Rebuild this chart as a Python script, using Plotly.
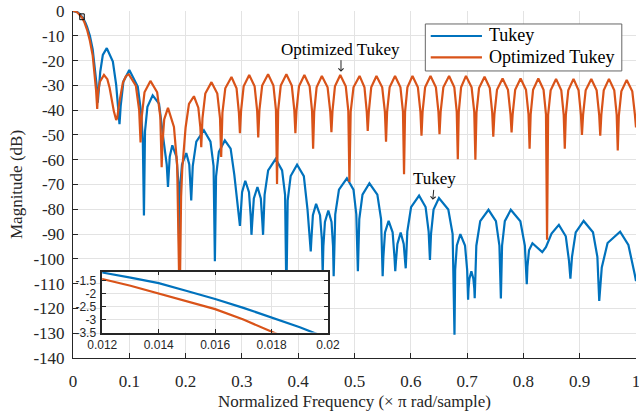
import plotly.graph_objects as go

# ---------------- data ----------------
tukey_freq = [
    0, 0.004, 0.008, 0.012, 0.013, 0.014, 0.015, 0.016, 0.017, 0.018, 0.019, 0.02, 0.022, 0.025, 0.03, 0.035, 0.039, 0.042, 0.044,
    0.0459, 0.0484, 0.053, 0.060, 0.0708, 0.0767, 0.0826,
    0.0847, 0.0896, 0.100, 0.115, 0.121, 0.124, 0.126,
    0.1279, 0.1322, 0.1415, 0.1528, 0.1616, 0.1665, 0.1687,
    0.1696, 0.1718, 0.1764, 0.1837, 0.187, 0.1885,
    0.19, 0.1936, 0.2012, 0.2065, 0.2089, 0.210,
    0.2127, 0.219, 0.2325, 0.2442, 0.2497, 0.252,
    0.2541, 0.2591, 0.2697, 0.280, 0.2865, 0.2925, 0.2965,
    0.2976, 0.3003, 0.306, 0.3126, 0.3157, 0.317,
    0.3183, 0.3212, 0.3276, 0.3336, 0.3364, 0.3376,
    0.3403, 0.3466, 0.360, 0.3714, 0.3767, 0.379,
    0.3813, 0.3866, 0.398, 0.410, 0.4165, 0.4223,
    0.4234, 0.4261, 0.4318, 0.4388, 0.4421, 0.4435,
    0.4447, 0.4475, 0.4535, 0.4592, 0.4619, 0.463,
    0.4658, 0.4724, 0.4865, 0.4982, 0.5032, 0.506,
    0.5085, 0.5142, 0.5265, 0.5406, 0.5472, 0.55,
    0.5513, 0.5542, 0.5606, 0.5677, 0.571, 0.5724,
    0.5736, 0.5762, 0.582, 0.5874, 0.5899, 0.591,
    0.5938, 0.6005, 0.6147, 0.6263, 0.6317, 0.634,
    0.6359, 0.6404, 0.650, 0.6666, 0.6743, 0.6776,
    0.6788, 0.6818, 0.688, 0.6963, 0.7001, 0.7018,
    0.7025, 0.7041, 0.7076, 0.7111, 0.7128, 0.7135,
    0.7164, 0.7233, 0.738, 0.7512, 0.7574, 0.760,
    0.7621, 0.767, 0.7776, 0.7946, 0.8026, 0.806,
    0.8072, 0.810, 0.816, 0.825, 0.8335,
    0.84, 0.85, 0.863, 0.8753, 0.881, 0.8835,
    0.8863, 0.8929, 0.907, 0.9236, 0.9314, 0.9347,
    0.9392, 0.9495, 0.9718, 0.9865, 0.998, 1.0,
]
tukey_db = [
    0, -0.13, -0.52, -1.19, -1.39, -1.60, -1.90, -2.21, -2.55, -2.92, -3.3, -3.72, -4.7, -6.4, -10, -15.5, -22.5, -30, -37,
    -30, -24.5, -17.7, -15, -20.4, -29.8, -45.7,
    -38.3, -28.4, -23.8, -30.5, -41, -52, -82.5,
    -48.5, -38.6, -34, -37.4, -53.5, -62, -71,
    -66, -58.8, -54.2, -58.8, -68.7, -95,
    -71.8, -61.9, -57.3, -61.9, -71.8, -76.4,
    -62.6, -52.7, -48.1, -52.7, -62.6, -101,
    -66.7, -56.8, -52.2, -55.5, -66, -78, -86.7,
    -83, -73.1, -68.5, -73.1, -83, -90.3,
    -85.5, -75.6, -71, -75.6, -85.5, -90.3,
    -74.2, -64.3, -59.7, -64.3, -74.2, -115,
    -76.5, -66.6, -62, -66.6, -80, -97,
    -92.3, -82.4, -77.8, -82.4, -92.3, -106,
    -95, -85.1, -80.5, -85.1, -95, -107,
    -82, -72.1, -67.5, -72.1, -82, -105,
    -84, -74.1, -69.5, -74.1, -84, -107,
    -99.2, -89.3, -84.7, -89.3, -99.2, -105,
    -101, -94, -89.4, -94, -101, -103.8,
    -89, -79.1, -74.5, -79.1, -89, -100.4,
    -90, -80.1, -75.5, -80.1, -90, -130.6,
    -104.5, -94.6, -90, -94.6, -104.5, -116.5,
    -112, -108, -105, -108, -112, -115.9,
    -94.7, -84.8, -80.2, -84.8, -94.7, -116,
    -94.7, -84.8, -80.2, -84.8, -94.7, -110.2,
    -103, -96.5, -93.7, -95.5, -97.3,
    -95.3, -89.8, -86.3, -90.9, -100.8, -108,
    -99.2, -89.3, -84.7, -89.3, -99.2, -117,
    -103.5, -93.6, -89, -94.4, -106.5, -109,
]

opt_freq = [
    0, 0.004, 0.008, 0.012, 0.013, 0.014, 0.015, 0.016, 0.017, 0.018, 0.019, 0.02, 0.025, 0.03, 0.035, 0.039, 0.041, 0.043,
    0.0444, 0.0478, 0.055, 0.061, 0.065, 0.0726, 0.0748, 0.0767, 0.0785, 0.0800, 0.0826, 0.0885, 0.094, 0.099,
    0.1116, 0.1175, 0.120,
    0.1221, 0.127, 0.1375, 0.1495, 0.1551, 0.1575,
    0.1588, 0.162, 0.1687, 0.1793, 0.185, 0.1894,
    0.192, 0.194, 0.2, 0.206, 0.2148, 0.2226, 0.2262, 0.2278,
    0.23, 0.235, 0.246, 0.2563, 0.2611, 0.2632,
    0.2654, 0.2705, 0.2815, 0.2905, 0.2947, 0.2965,
    0.2985, 0.3031, 0.313, 0.3226, 0.3271, 0.329,
    0.3311, 0.336, 0.3465, 0.356, 0.3605, 0.3624,
    0.3644, 0.369, 0.379, 0.3886, 0.3931, 0.395,
    0.3969, 0.4014, 0.411, 0.4203, 0.4246, 0.4265,
    0.4284, 0.4327, 0.442, 0.4522, 0.457, 0.459,
    0.4609, 0.4653, 0.4747, 0.4845, 0.489, 0.491,
    0.4932, 0.4982, 0.509, 0.5177, 0.5218, 0.5235,
    0.5254, 0.5297, 0.539, 0.5492, 0.554, 0.556,
    0.5579, 0.5624, 0.572, 0.5816, 0.5861, 0.588,
    0.5898, 0.594, 0.603, 0.6126, 0.6171, 0.619,
    0.6209, 0.6254, 0.635, 0.6446, 0.6491, 0.651,
    0.653, 0.6578, 0.668, 0.6773, 0.6816, 0.6835,
    0.6852, 0.6893, 0.698, 0.708, 0.7127, 0.7147,
    0.7167, 0.7212, 0.731, 0.7403, 0.7446, 0.7465,
    0.7485, 0.7531, 0.763, 0.7726, 0.7771, 0.779,
    0.7809, 0.7854, 0.795, 0.8046, 0.8091, 0.811,
    0.8129, 0.8172, 0.8265, 0.8358, 0.8401, 0.842,
    0.8439, 0.8484, 0.858, 0.8673, 0.8716, 0.8735,
    0.8754, 0.8797, 0.889, 0.898, 0.9022, 0.904,
    0.906, 0.9106, 0.9206, 0.9301, 0.9346, 0.9365,
    0.9384, 0.9427, 0.952, 0.9614, 0.9657, 0.9676,
    0.9695, 0.974, 0.9835, 0.9934, 0.998, 1.0,
]
opt_db = [
    0, -0.16, -0.64, -1.44, -1.70, -1.99, -2.29, -2.60, -3.0, -3.44, -3.9, -4.4, -7.6, -12, -18, -26, -32, -39.5,
    -33, -28.5, -25.8, -27.5, -31, -40.5, -43.2, -44, -43.2, -40, -36.5, -29, -26.3, -25.5,
    -30.1, -40, -53,
    -42.7, -32.8, -28.2, -32.8, -42.7, -63,
    -53.6, -43.7, -39.1, -46.8, -62, -120,
    -75, -64, -47, -37.5, -34.4, -39, -47, -55,
    -43.2, -33.3, -28.7, -33.3, -43.2, -58.9,
    -41.1, -31.2, -26.6, -31.2, -41.1, -49.3,
    -40.3, -30.4, -25.8, -30.4, -40.3, -51,
    -40, -30.1, -25.5, -30.1, -40, -69.8,
    -40, -30.1, -25.5, -30.1, -40, -49.3,
    -40.3, -30.4, -25.8, -30.4, -40.3, -55.6,
    -40.7, -30.8, -26.2, -30.8, -40.7, -48.9,
    -40.3, -30.4, -25.8, -30.4, -40.3, -69,
    -40.7, -30.8, -26.2, -30.8, -40.7, -48.4,
    -40.7, -30.8, -26.2, -30.8, -40.7, -52.7,
    -40.7, -30.8, -26.2, -30.8, -40.7, -65.9,
    -40.7, -30.8, -26.2, -30.8, -40.7, -50.3,
    -40.7, -30.8, -26.2, -30.8, -40.7, -49.7,
    -40.7, -30.8, -26.2, -30.8, -40.7, -59.8,
    -40.7, -30.8, -26.2, -30.8, -40.7, -60,
    -41, -31.1, -26.5, -31.1, -41, -50.7,
    -41.7, -31.8, -27.2, -31.8, -41.7, -49,
    -41.7, -31.8, -27.2, -31.8, -41.7, -55.6,
    -41.7, -31.8, -27.2, -31.8, -41.7, -92.3,
    -41.9, -32, -27.4, -32, -41.9, -55.6,
    -41.9, -32, -27.4, -32, -41.9, -50,
    -41.9, -32, -27.4, -32, -41.9, -50.3,
    -41.9, -32, -27.4, -32, -41.9, -56.3,
    -42.3, -32.4, -27.8, -32.4, -41.7, -47,
]

x_ticks = [0, 0.1, 0.2, 0.3, 0.4, 0.5, 0.6, 0.7, 0.8, 0.9, 1]
x_tick_labels = ["0", "0.1", "0.2", "0.3", "0.4", "0.5", "0.6", "0.7", "0.8", "0.9", "1"]
y_ticks = [0, -10, -20, -30, -40, -50, -60, -70, -80, -90, -100, -110, -120, -130, -140]
y_tick_labels = ["0", "-10", "-20", "-30", "-40", "-50", "-60", "-70", "-80", "-90", "-100",
                 "-110", "-120", "-130", "-140"]
inset_x_ticks = [0.012, 0.014, 0.016, 0.018, 0.02]
inset_x_labels = ["0.012", "0.014", "0.016", "0.018", "0.02"]
inset_y_ticks = [-1.5, -2, -2.5, -3, -3.5]
inset_y_labels = ["-1.5", "-2", "-2.5", "-3", "-3.5"]
inset_x_range = [0.012, 0.02]
inset_y_range = [-3.5, -1.154]

series_names = ["Tukey", "Optimized Tukey"]
BLUE = "#0072BD"
ORANGE = "#D95319"
INK = "#262626"
GRID = "#e3e3e3"
SERIF = "Liberation Serif"
SANS = "Liberation Sans"

fig = go.Figure()
fig.add_trace(go.Scatter(x=tukey_freq, y=tukey_db, mode="lines", name=series_names[0],
                         line=dict(color=BLUE, width=2.2), showlegend=False))
fig.add_trace(go.Scatter(x=opt_freq, y=opt_db, mode="lines", name=series_names[1],
                         line=dict(color=ORANGE, width=2.2), showlegend=False))
fig.add_trace(go.Scatter(x=tukey_freq, y=tukey_db, mode="lines", xaxis="x2", yaxis="y2",
                         line=dict(color=BLUE, width=2.2), showlegend=False))
fig.add_trace(go.Scatter(x=opt_freq, y=opt_db, mode="lines", xaxis="x2", yaxis="y2",
                         line=dict(color=ORANGE, width=2.2), showlegend=False))

axis_common = dict(showline=True, linecolor=INK, linewidth=1, ticks="inside", ticklen=5,
                   tickcolor=INK, showgrid=True, gridcolor=GRID, gridwidth=1, zeroline=False,
                   automargin=False, ticklabeloverflow="allow")
inset_common = dict(mirror="ticks", showline=True, linecolor=INK, linewidth=1.5, ticks="inside",
                    ticklen=4, tickcolor=INK, showgrid=True, gridcolor=GRID, zeroline=False,
                    automargin=False, tickfont=dict(family=SANS, size=12, color=INK))

fig.update_layout(
    template="none",
    width=639, height=416,
    margin=dict(l=73, r=2.5, t=11, b=57.8),
    paper_bgcolor="white", plot_bgcolor="white",
    font=dict(family=SERIF, size=17, color=INK),
    showlegend=False,
    xaxis=dict(range=[0, 1], tickvals=x_ticks, ticktext=x_tick_labels,
               tickfont=dict(family=SERIF, size=17, color=INK), ticklabelstandoff=8,
               title=dict(text="Normalized Frequency (× π rad/sample)",
                          font=dict(family=SERIF, size=17, color=INK), standoff=4),
               **axis_common),
    yaxis=dict(range=[-140, 0], tickvals=y_ticks, ticktext=y_tick_labels,
               tickfont=dict(family=SERIF, size=17, color=INK), ticklabelstandoff=4,
               title=dict(text="Magnitude (dB)", font=dict(family=SERIF, size=17, color=INK),
                          standoff=6),
               **axis_common),
    xaxis2=dict(domain=[0.052, 0.453], anchor="y2", range=inset_x_range,
                tickvals=inset_x_ticks, ticktext=inset_x_labels, **inset_common),
    yaxis2=dict(domain=[0.0734, 0.2491], anchor="x2", range=inset_y_range,
                tickvals=inset_y_ticks, ticktext=inset_y_labels, ticklabelstandoff=2,
                **inset_common),
)

# zoom-region marker on the main axes
fig.add_shape(type="rect", xref="x", yref="y", x0=inset_x_range[0], x1=inset_x_range[1],
              y0=inset_y_range[0], y1=inset_y_range[1], line=dict(color="black", width=1))

# legend box (drawn manually to match the long line samples)
fig.add_shape(type="rect", xref="paper", yref="paper", x0=0.6258, x1=0.9748, y0=0.8272, y1=0.9626,
              line=dict(color="#666666", width=1), fillcolor="white", layer="above")
legend_rows = [(0.928, BLUE), (0.8666, ORANGE)]
for (yy, col), name in zip(legend_rows, series_names):
    fig.add_shape(type="line", xref="paper", yref="paper", x0=0.6354, x1=0.7264, y0=yy, y1=yy,
                  line=dict(color=col, width=2.2), layer="above")
    fig.add_annotation(xref="paper", yref="paper", x=0.7353, y=yy + 0.002, text=name,
                       showarrow=False, xanchor="left", yanchor="middle",
                       font=dict(family=SERIF, size=18, color="black"))

# text callouts
fig.add_annotation(x=0.476, y=-24.5, text="Optimized Tukey", showarrow=True, ax=0, ay=-22.5,
                   arrowhead=4, arrowsize=1, arrowwidth=1, arrowcolor=INK,
                   font=dict(family=SERIF, size=17, color="black"))
fig.add_annotation(x=0.639, y=-76.2, text="Tukey", showarrow=True, ax=2, ay=-21,
                   arrowhead=4, arrowsize=1, arrowwidth=1, arrowcolor=INK,
                   font=dict(family=SERIF, size=17, color="black"))

fig.write_html("out.html")
